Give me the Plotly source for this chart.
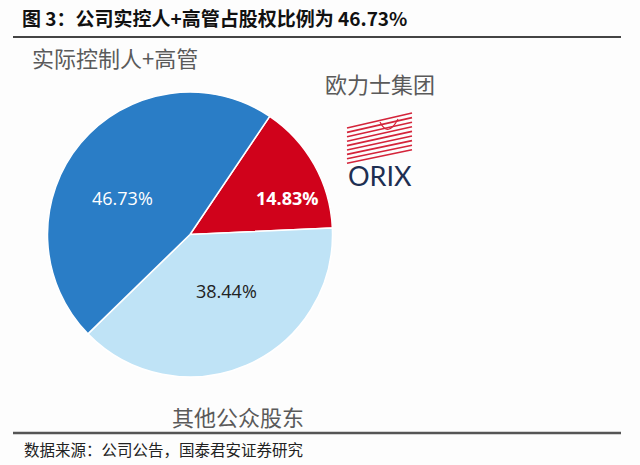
import plotly.graph_objects as go

# ---- data ----
labels = ["欧力士集团", "其他公众股东", "实际控制人+高管"]
values = [14.83, 38.44, 46.73]
colors = ["#d0021b", "#bfe3f6", "#2a7dc6"]
text_colors = ["white", "#222222", "white"]
text_bold = [True, False, False]
title_text = "图 3：公司实控人+高管占股权比例为 46.73%"
source_text = "数据来源：公司公告，国泰君安证券研究"

W, H = 640, 465
def px(x):
    return x / W
def py(y):
    return 1 - y / H

CJK = "Noto Sans CJK SC"

fig = go.Figure()
fig.add_trace(go.Pie(
    labels=labels, values=values, sort=False, direction="clockwise",
    rotation=34, marker=dict(colors=colors, line=dict(color="white", width=1.5)),
    textinfo="none", hoverinfo="label+percent", showlegend=False,
    domain=dict(x=[px(47.5), px(332.5)], y=[py(377), py(92)]),
))

annotations = []
# percentage labels inside slices
label_pos = [(287, 198), (226, 291), (122, 198)]
for v, (x, y), c, b in zip(values, label_pos, text_colors, text_bold):
    t = f"{v:.2f}%"
    if b:
        t = f"<b>{t}</b>"
    annotations.append(dict(x=px(x), y=py(y), xref="paper", yref="paper", text=t,
                            showarrow=False, font=dict(family="Open Sans", size=18, color=c),
                            xanchor="center", yanchor="middle"))

# category labels
annotations.append(dict(x=px(115), y=py(57), xref="paper", yref="paper", text=labels[2],
                        showarrow=False, font=dict(family=CJK, size=22, color="#5a5a5a"),
                        xanchor="center", yanchor="middle"))
annotations.append(dict(x=px(380), y=py(83), xref="paper", yref="paper", text=labels[0],
                        showarrow=False, font=dict(family=CJK, size=22, color="#5a5a5a"),
                        xanchor="center", yanchor="middle"))
annotations.append(dict(x=px(238), y=py(416), xref="paper", yref="paper", text=labels[1],
                        showarrow=False, font=dict(family=CJK, size=22, color="#5a5a5a"),
                        xanchor="center", yanchor="middle"))
# ORIX wordmark
annotations.append(dict(x=px(380), y=py(176), xref="paper", yref="paper", text="ORIX",
                        showarrow=False, font=dict(family="Lato", size=27, color="#1e2f52"),
                        xanchor="center", yanchor="middle"))
# title
annotations.append(dict(x=px(20), y=py(18), xref="paper", yref="paper", text=f"<b>{title_text}</b>",
                        showarrow=False, font=dict(family=CJK, size=19, color="#111111"),
                        xanchor="left", yanchor="middle"))
# source
annotations.append(dict(x=px(22), y=py(449), xref="paper", yref="paper", text=source_text,
                        showarrow=False, font=dict(family=CJK, size=15.5, color="#222222"),
                        xanchor="left", yanchor="middle"))

shapes = [
    dict(type="line", xref="paper", yref="paper", x0=px(13), x1=px(621), y0=py(37), y1=py(37),
         line=dict(color="#444444", width=2)),
    dict(type="line", xref="paper", yref="paper", x0=px(13), x1=px(621), y0=py(433), y1=py(433),
         line=dict(color="#555555", width=2.5)),
]
# ORIX logo stripes
for i in range(9):
    shapes.append(dict(type="line", xref="paper", yref="paper",
                       x0=px(347), y0=py(128 + i * 4.4), x1=px(412), y1=py(113 + i * 4.6),
                       line=dict(color="#d4243a", width=1.6)))
# arc motif in logo
shapes.append(dict(type="path", xref="paper", yref="paper",
                   path=f"M {px(380)} {py(122)} Q {px(388)} {py(138)} {px(398)} {py(119)}",
                   line=dict(color="#d4243a", width=1.2)))

fig.update_layout(
    width=W, height=H, margin=dict(l=0, r=0, t=0, b=0),
    paper_bgcolor="#fdfdfd", plot_bgcolor="#fdfdfd",
    annotations=annotations, shapes=shapes,
)
fig.write_html("out.html")
